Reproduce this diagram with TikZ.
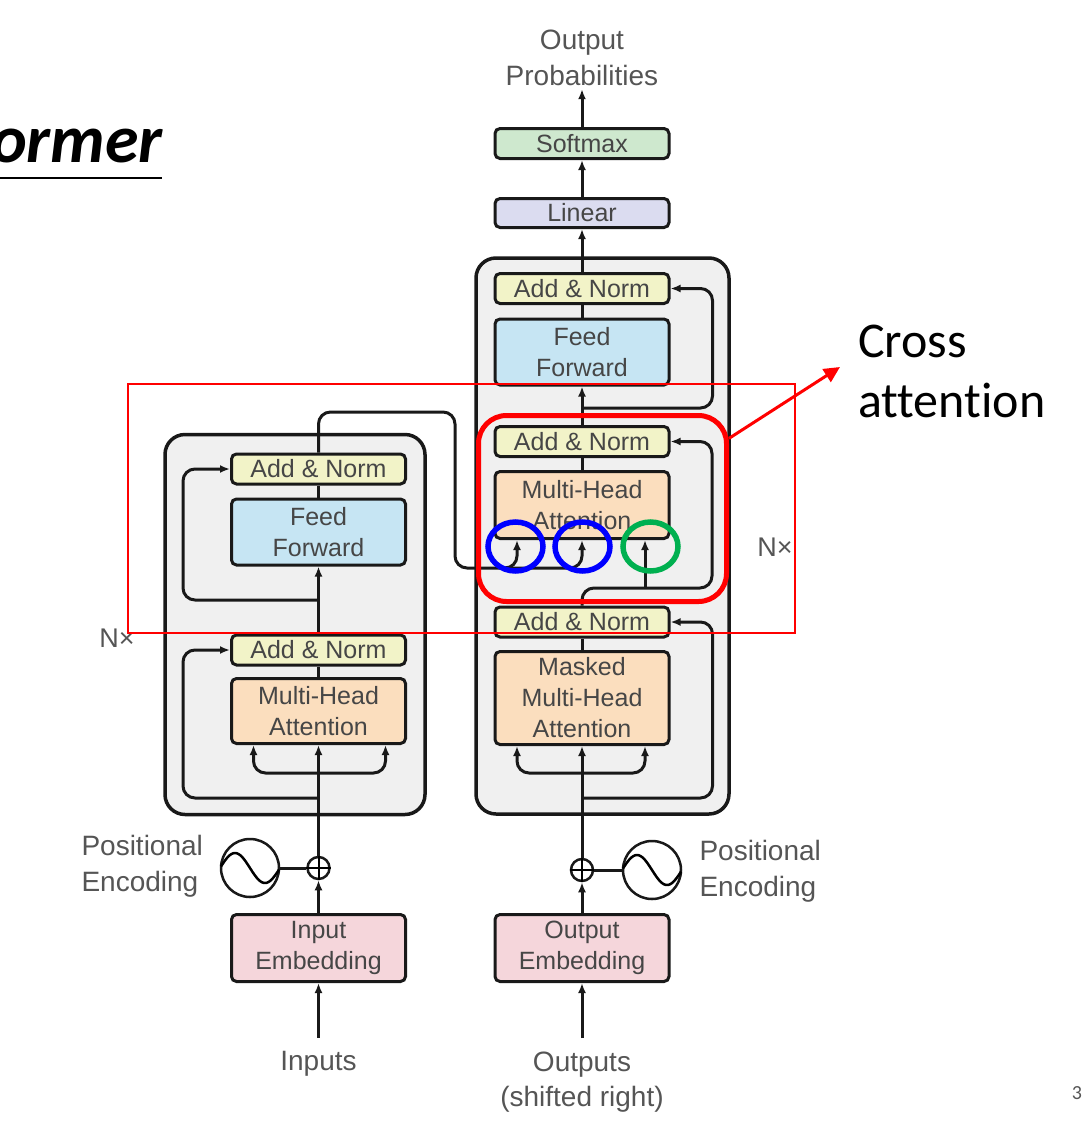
\documentclass[tikz,border=0pt]{standalone}
\usepackage{fontspec}
\usetikzlibrary{arrows.meta,shapes.geometric}
\setmainfont{Liberation Sans}
\newfontfamily\calibri[Ligatures=NoCommon]{Carlito}
\definecolor{linecol}{RGB}{25,25,25}
\definecolor{blockfill}{RGB}{240,240,240}
\definecolor{normfill}{RGB}{242,243,200}
\definecolor{fffill}{RGB}{198,229,243}
\definecolor{attnfill}{RGB}{251,222,190}
\definecolor{embfill}{RGB}{245,214,219}
\definecolor{softfill}{RGB}{206,232,206}
\definecolor{linfill}{RGB}{219,220,240}
\definecolor{boxtext}{RGB}{70,70,70}
\definecolor{labeltext}{RGB}{85,85,85}
\definecolor{ringgreen}{RGB}{0,176,80}

\begin{document}
\begin{tikzpicture}
[
    x=1pt, y=-1pt,
    block/.style={draw=linecol, line width=3.5pt, fill=blockfill, rounded corners=20pt},
    box/.style={draw=linecol, line width=3pt, rounded corners=5pt, align=center, text=boxtext, inner sep=0pt, minimum width=174pt, font=\fontsize{25}{31}\selectfont},
    addnorm/.style={box, fill=normfill, minimum height=30pt},
    ffn/.style={box, fill=fffill, minimum height=66pt},
    attn/.style={box, fill=attnfill},
    embed/.style={box, fill=embfill, minimum height=67pt},
    label/.style={text=labeltext, align=center, font=\fontsize{28}{35.5}\selectfont},
    conn/.style={draw=linecol, line width=3pt},
    arr/.style={conn, -{Latex[length=10pt,width=8pt]}},
    corner/.style={rounded corners=12pt},
    plus/.style={circle, draw=linecol, line width=2.5pt, minimum size=22pt, inner sep=0pt},
    wave/.style={circle, draw=linecol, line width=2.5pt, minimum size=58pt, inner sep=0pt},
    ring/.style={ellipse, draw=#1, line width=5.5pt, minimum width=55pt, minimum height=49pt},
]
\useasboundingbox (0,0) rectangle (1085,1141);

\node[anchor=base east, inner sep=0pt, font=\calibri\bfseries\itshape\fontsize{68}{70}\selectfont] (title) at (163,162) {ormer};
\draw[line width=2pt] (0,178) -- (162,178);

\node[block, minimum width=260pt, minimum height=380pt] (encblock) at (295,624.5) {};
\node[block, minimum width=253pt, minimum height=556pt] (decblock) at (602.5,536) {};

% encoder
\node[addnorm] (ean2) at (318.5,469) {Add \& Norm};
\node[ffn] (eff) at (318.5,532) {Feed\\Forward};
\node[addnorm] (ean1) at (318.5,650) {Add \& Norm};
\node[attn, minimum height=65pt] (emha) at (318.5,711) {Multi-Head\\Attention};
\node[embed] (inemb) at (318.5,948) {Input\\Embedding};
\node[plus] (eadd) at (318.5,868) {};
\draw[line width=2pt] (eadd.north) -- (eadd.south) (eadd.west) -- (eadd.east);
\node[wave] (epos) at (250,868) {};
\draw[line width=2.5pt, shift={(epos.center)}] plot[domain=-29:29, samples=40, smooth] (\x,{15*sin(6*\x)});
\node[label, anchor=west, align=left] (eposlabel) at (78,866) {Positional\\Encoding};
\node[label] (inputs) at (318.5,1064) {Inputs};
\node[label, font=\fontsize{27}{30}\selectfont] (encN) at (117,638) {N×};
\coordinate (esplit) at (318.5,773);
\coordinate (eres1) at (318.5,798);
\coordinate (eres2) at (318.5,600);

% decoder
\node[label] (outprob) at (582,58) {Output\\Probabilities};
\node[box, fill=softfill, minimum height=30pt] (soft) at (582,143.5) {Softmax};
\node[box, fill=linfill, minimum height=29pt] (lin) at (582,213) {Linear};
\node[addnorm] (dan3) at (582,288.5) {Add \& Norm};
\node[ffn] (dff) at (582,352) {Feed\\Forward};
\node[addnorm] (dan2) at (582,441.5) {Add \& Norm};
\node[attn, minimum height=67pt] (dmha) at (582,505) {Multi-Head\\Attention};
\node[addnorm] (dan1) at (582,622) {Add \& Norm};
\node[attn, minimum height=93pt] (dmmha) at (582,698) {Masked\\Multi-Head\\Attention};
\node[embed] (outemb) at (582,948) {Output\\Embedding};
\node[plus] (dadd) at (582,870) {};
\draw[line width=2pt] (dadd.north) -- (dadd.south) (dadd.west) -- (dadd.east);
\node[wave] (dpos) at (652,870) {};
\draw[line width=2.5pt, shift={(dpos.center)}] plot[domain=-29:29, samples=40, smooth] (\x,{15*sin(6*\x)});
\node[label, anchor=west, align=left] (dposlabel) at (696,871) {Positional\\Encoding};
\node[label] (outputs) at (582,1082) {Outputs\\(shifted right)};
\node[label, font=\fontsize{27}{30}\selectfont] (decN) at (775,547) {N×};
\coordinate (dsplit) at (582,773);
\coordinate (dres1) at (582,798);
\coordinate (dres3) at (582,408);
\coordinate (qsplit) at (645,588);

% encoder connectors
\draw[arr, shorten <=10pt] (inputs) -- (inemb);
\draw[arr] (inemb) -- (eadd);
\draw[conn] (eadd) -- (epos);
\draw[arr] (eadd) -- (emha);
\draw[arr, corner] (esplit) -| ([xshift=-65pt]emha.south);
\draw[arr, corner] (esplit) -| ([xshift=67pt]emha.south);
\draw[arr, corner] (eres1) -| ([xshift=-47pt]ean1.west) -- (ean1.west);
\draw[conn] (emha) -- (ean1);
\draw[arr] (ean1) -- (eff);
\draw[arr, corner] (eres2) -| ([xshift=-47pt]ean2.west) -- (ean2.west);
\draw[conn] (eff) -- (ean2);
\draw[arr, corner] (ean2.north) |- (455,412) |- (517,568) -- ([xshift=-65pt]dmha.south);
\draw[arr, corner] (505,568) -| (dmha.south);

% decoder connectors
\draw[arr, shorten <=10pt] (outputs) -- (outemb);
\draw[arr] (outemb) -- (dadd);
\draw[conn] (dadd) -- (dpos);
\draw[arr] (dadd) -- (dmmha);
\draw[arr, corner] (dsplit) -| ([xshift=-65pt]dmmha.south);
\draw[arr, corner] (dsplit) -| ([xshift=63pt]dmmha.south);
\draw[arr, corner] (dres1) -| ([xshift=42pt]dan1.east) -- (dan1.east);
\draw[conn] (dmmha) -- (dan1);
\draw[arr, corner] (dan1.north) |- (712,588) |- (dan2.east);
\draw[arr] (qsplit) -- ([xshift=63pt]dmha.south);
\draw[conn] (dmha) -- (dan2);
\draw[arr] (dan2) -- (dff);
\draw[arr, corner] (dres3) -| ([xshift=42pt]dan3.east) -- (dan3.east);
\draw[conn] (dff) -- (dan3);
\draw[arr] (dan3) -- (lin);
\draw[arr] (lin) -- (soft);
\draw[arr] (soft) -- (outprob);

% highlight
\node[draw=red, line width=2pt, minimum width=667pt, minimum height=249pt] (focus) at (461.5,508.5) {};
\node[draw=red, line width=5pt, rounded corners=28pt, minimum width=248pt, minimum height=186pt] (cross) at (602.5,508.5) {};
\node[ring=blue] (kring) at (515.5,546.5) {};
\node[ring=blue] (vring) at (582.5,546.5) {};
\node[ring=ringgreen] (qring) at (650.5,546.5) {};
\node[anchor=north west, inner sep=0pt, align=left, font=\calibri\fontsize{50}{60}\selectfont] (crosslabel) at (858,325) {Cross\\attention};
\coordinate (crosstip) at (840,367);
\draw[red, line width=3pt, -{Triangle[length=16pt,width=15pt]}] (cross.29) -- (crosstip);

\node[text=labeltext, font=\calibri\fontsize{20}{24}\selectfont] (pagenum) at (1077,1093) {3};
\end{tikzpicture}
\end{document}
